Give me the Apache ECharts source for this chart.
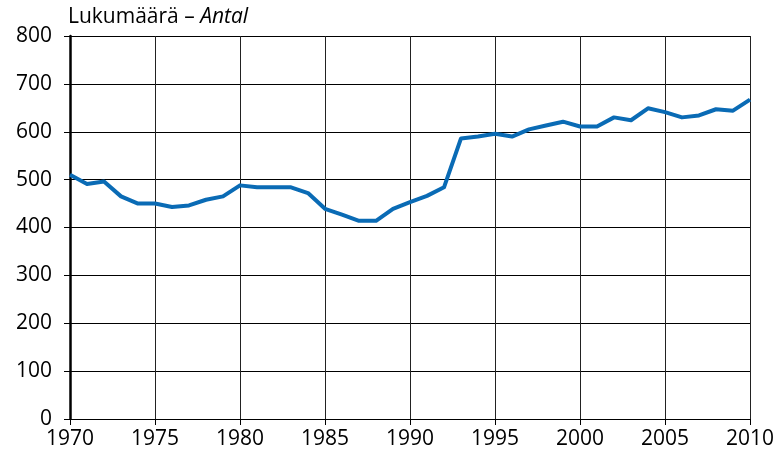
<!DOCTYPE html>
<html>
<head>
<meta charset="utf-8">
<script src="https://cdn.jsdelivr.net/npm/echarts@6/dist/echarts.min.js"></script>
<style>
  html, body { margin: 0; padding: 0; background: #fff; }
  #chart { width: 781px; height: 463px; }
</style>
</head>
<body>
<div id="chart"></div>
<script>
// vuodet / år
var years = [1970, 1971, 1972, 1973, 1974, 1975, 1976, 1977, 1978, 1979,
             1980, 1981, 1982, 1983, 1984, 1985, 1986, 1987, 1988, 1989,
             1990, 1991, 1992, 1993, 1994, 1995, 1996, 1997, 1998, 1999,
             2000, 2001, 2002, 2003, 2004, 2005, 2006, 2007, 2008, 2009, 2010];
var counts = [510, 491, 496, 465, 450, 450, 443, 446, 458, 465,
              488, 484, 484, 484, 472, 439, 427, 414, 414, 439,
              453, 466, 484, 586, 590, 596, 590, 605, 613, 621,
              611, 611, 630, 624, 649, 641, 630, 634, 647, 644, 667];
var yTicks = [0, 100, 200, 300, 400, 500, 600, 700, 800];
var xTicks = [1970, 1975, 1980, 1985, 1990, 1995, 2000, 2005, 2010];

var myChart = echarts.init(document.getElementById('chart'));

var points = [];
for (var i = 0; i < years.length; i++) {
  points.push([years[i], counts[i]]);
}

var font = 'Open Sans';

var option = {
  animation: false,
  textStyle: { fontFamily: font },
  title: {
    text: '{a|Lukumäärä – }{b|Antal}',
    left: 68,
    top: 7,
    padding: 0,
    textStyle: {
      fontWeight: 'normal',
      rich: {
        a: { fontSize: 21, color: '#000', fontFamily: font, fontWeight: 'normal' },
        b: { fontSize: 21, color: '#000', fontFamily: font, fontWeight: 'normal', fontStyle: 'italic' }
      }
    }
  },
  grid: {
    left: 70,
    right: 31,
    top: 36,
    bottom: 44,
    containLabel: false
  },
  xAxis: {
    type: 'value',
    min: xTicks[0],
    max: xTicks[xTicks.length - 1],
    interval: 5,
    axisLine: { show: false },
    axisTick: { show: true, length: 6, lineStyle: { color: '#000', width: 1 } },
    axisLabel: {
      color: '#000',
      fontSize: 21,
      margin: 10,
      formatter: function (v) { return String(v); }
    },
    splitLine: { show: true, lineStyle: { color: '#222', width: 1 } }
  },
  yAxis: {
    type: 'value',
    min: yTicks[0],
    max: yTicks[yTicks.length - 1],
    interval: 100,
    axisLine: { show: true, lineStyle: { color: '#000', width: 2.5 } },
    axisTick: { show: true, length: 6, lineStyle: { color: '#000', width: 1 } },
    axisLabel: { color: '#000', fontSize: 21, margin: 18 },
    splitLine: { show: true, lineStyle: { color: '#000', width: 1 } }
  },
  series: [
    {
      type: 'line',
      data: points,
      showSymbol: false,
      symbol: 'none',
      lineStyle: { color: '#0a6bb5', width: 4, join: 'round' },
      z: 5
    }
  ]
};

myChart.setOption(option);
window.addEventListener('resize', function () {
  myChart.resize();
});
</script>
</body>
</html>
